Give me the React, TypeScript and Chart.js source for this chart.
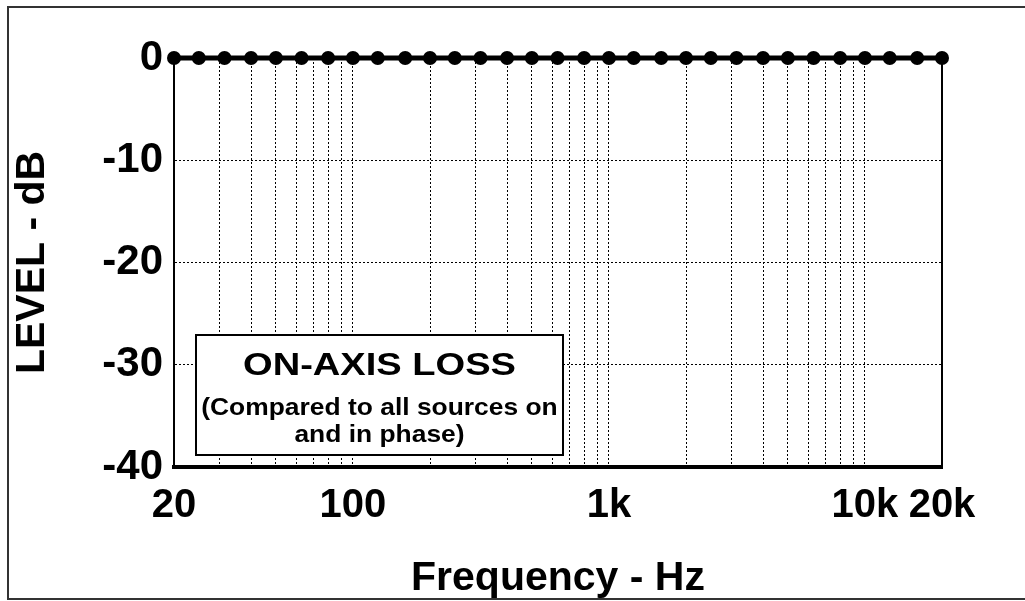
import React, { useEffect, useRef } from 'react';
import { Chart, registerables } from 'chart.js';

Chart.register(...registerables);

// 1/3-octave band centre frequencies (Hz)
const frequencies = [
  20, 25, 31.5, 40, 50, 63, 80, 100, 125, 160, 200, 250, 315, 400, 500, 630, 800,
  1000, 1250, 1600, 2000, 2500, 3150, 4000, 5000, 6300, 8000, 10000, 12500, 16000, 20000,
];
// On-axis loss (dB)
const levels = [
  0, 0, 0, 0, 0, 0, 0, 0, 0, 0, 0, 0, 0, 0, 0, 0, 0,
  0, 0, 0, 0, 0, 0, 0, 0, 0, 0, 0, 0, 0, 0,
];
// x grid / tick positions
const xTickValues = [
  20, 30, 40, 50, 60, 70, 80, 90, 100, 200, 300, 400, 500, 600, 700, 800, 900,
  1000, 2000, 3000, 4000, 5000, 6000, 7000, 8000, 9000, 10000, 20000,
];
const xLabelValues = [20, 100, 1000, 10000, 20000];
const xLabelTexts = ['20', '100', '1k', '10k', '20k'];
const yTickValues = [0, -10, -20, -30, -40];
const xTitle = 'Frequency - Hz';
const yTitle = 'LEVEL - dB';
const boxTitle = 'ON-AXIS LOSS';
const boxLines = ['(Compared to all sources on', 'and in phase)'];

const FONT = "'Liberation Sans', Arial, Helvetica, sans-serif";

function stretchedText(ctx: CanvasRenderingContext2D, text: string, x: number, baseline: number, font: string, sx: number) {
  ctx.save();
  ctx.translate(x, baseline);
  ctx.scale(sx, 1);
  ctx.font = font;
  ctx.fillStyle = '#000';
  ctx.textAlign = 'center';
  ctx.textBaseline = 'alphabetic';
  ctx.fillText(text, 0, 0);
  ctx.restore();
}

const decorPlugin = {
  id: 'decor',
  beforeDatasetsDraw(chart: any) {
    const { ctx, chartArea } = chart;
    const bx = chartArea.left + 22;
    const by = chartArea.top + 277;
    const bw = 367;
    const bh = 120;
    ctx.save();
    ctx.fillStyle = '#fff';
    ctx.fillRect(bx, by, bw, bh);
    ctx.lineWidth = 2;
    ctx.strokeStyle = '#000';
    ctx.strokeRect(bx, by, bw, bh);
    ctx.restore();
    const cx = bx + bw / 2;
    stretchedText(ctx, boxTitle, cx, by + 40, `bold 32px ${FONT}`, 1.19);
    stretchedText(ctx, boxLines[0], cx, by + 80, `bold 24px ${FONT}`, 1.1);
    stretchedText(ctx, boxLines[1], cx, by + 107, `bold 24px ${FONT}`, 1.1);
  },
  afterDraw(chart: any) {
    const { ctx, width, height } = chart;
    ctx.save();
    ctx.fillStyle = '#333';
    ctx.fillRect(7, 6, 2, height - 8);
    ctx.fillRect(7, 6, width - 7, 2);
    ctx.fillRect(7, height - 3, width - 7, 2);
    ctx.restore();
  },
};

export default function App() {
  const canvasRef = useRef<HTMLCanvasElement | null>(null);

  useEffect(() => {
    if (!canvasRef.current) return;
    const chart = new Chart(canvasRef.current, {
      type: 'line',
      data: {
        datasets: [
          {
            data: frequencies.map((f, i) => ({ x: f, y: levels[i] })),
            borderColor: '#000',
            backgroundColor: '#000',
            borderWidth: 5,
            pointRadius: 7,
            pointBorderWidth: 0,
            pointBackgroundColor: '#000',
            clip: false as any,
            tension: 0,
          },
        ],
      },
      options: {
        animation: false,
        responsive: true,
        maintainAspectRatio: false,
        layout: { padding: { top: 58, left: 0, right: 0, bottom: 0 } },
        plugins: { legend: { display: false }, tooltip: { enabled: false } },
        scales: {
          x: {
            type: 'logarithmic',
            position: 'bottom',
            min: 20,
            max: 20000,
            afterBuildTicks: (scale: any) => {
              scale.ticks = xTickValues.map((v) => ({ value: v }));
            },
            afterFit: (scale: any) => {
              scale.height = 134;
            },
            ticks: {
              autoSkip: false,
              maxRotation: 0,
              minRotation: 0,
              padding: 15,
              color: '#000',
              font: { family: FONT, size: 40, weight: 'bold' },
              callback: (value: any) => {
                const idx = xLabelValues.indexOf(Number(value));
                return idx >= 0 ? xLabelTexts[idx] : '';
              },
            },
            grid: {
              drawTicks: false,
              lineWidth: 1,
              color: (ctx: any) => {
                const v = ctx.tick ? ctx.tick.value : null;
                return v === 20 || v === 20000 ? 'rgba(0,0,0,0)' : '#000';
              },
            },
            border: { display: true, color: '#000', width: 4, dash: [2, 2] },
            title: {
              display: true,
              text: xTitle,
              color: '#000',
              font: { family: FONT, size: 41, weight: 'bold', lineHeight: 1 },
              padding: { top: 0, bottom: 1.5 },
            },
          },
          y: {
            type: 'linear',
            position: 'left',
            min: -40,
            max: 0,
            afterBuildTicks: (scale: any) => {
              scale.ticks = yTickValues.map((v) => ({ value: v }));
            },
            afterFit: (scale: any) => {
              scale.width = 174;
            },
            ticks: {
              padding: 11,
              color: '#000',
              font: { family: FONT, size: 42, weight: 'bold' },
            },
            grid: {
              drawTicks: false,
              lineWidth: 1,
              color: (ctx: any) => {
                const v = ctx.tick ? ctx.tick.value : null;
                return v === 0 || v === -40 ? 'rgba(0,0,0,0)' : '#000';
              },
            },
            border: { display: true, color: '#000', width: 2, dash: [2, 2] },
            title: {
              display: true,
              text: yTitle,
              color: '#000',
              font: { family: FONT, size: 41, weight: 'bold', lineHeight: 1 },
              padding: { top: 12.5, bottom: 0 },
            },
          },
          y2: {
            type: 'linear',
            position: 'right',
            min: -40,
            max: 0,
            afterFit: (scale: any) => {
              scale.width = 83;
            },
            ticks: { display: false },
            grid: { display: false, drawTicks: false },
            border: { display: true, color: '#000', width: 2 },
          },
        },
      } as any,
      plugins: [decorPlugin],
    });
    return () => chart.destroy();
  }, []);

  return (
    <div style={{ position: 'fixed', left: 0, top: 0, width: 1025, height: 601, background: '#fff' }}>
      <canvas ref={canvasRef} />
    </div>
  );
}
